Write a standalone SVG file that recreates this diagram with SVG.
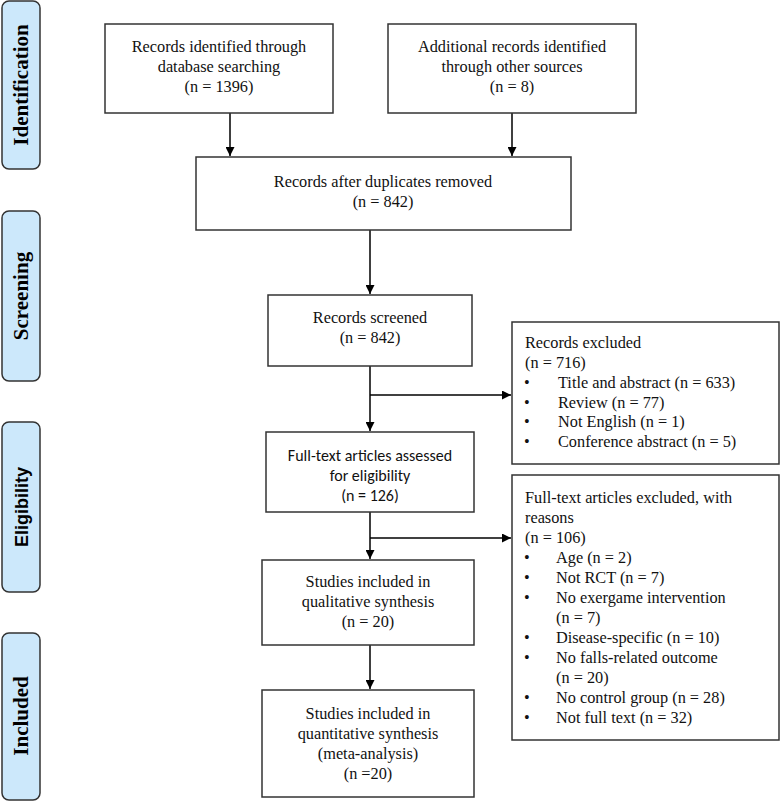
<svg xmlns="http://www.w3.org/2000/svg" width="783" height="803" viewBox="0 0 783 803">
<defs>
<marker id="ah" viewBox="0 0 10 10" refX="10" refY="5" markerWidth="9" markerHeight="9" markerUnits="userSpaceOnUse" orient="auto"><path d="M0,0L10,5L0,10z" fill="#000"/></marker>
<style>
.b{fill:#fff;stroke:#333;stroke-width:1.5}
.s{fill:#cce8fb;stroke:#333;stroke-width:1.5}
.t{font-family:"Liberation Serif",serif;font-size:16.3px;fill:#111}
.sa{font-family:Carlito,"Liberation Sans",sans-serif;font-size:16px;fill:#111}
.m{text-anchor:middle}
.lb{font-family:"Liberation Serif",serif;font-weight:bold;font-size:21px;text-anchor:middle}
.ls{font-family:"Liberation Sans",sans-serif;font-weight:bold;font-size:18px;text-anchor:middle}
.c{stroke:#000;stroke-width:1.5;fill:none}
</style>
</defs>
<rect width="783" height="803" fill="#fff"/>
<g id="phases">
<rect class="s" x="2" y="1" width="38" height="168" rx="7"/>
<text class="lb" transform="translate(28,85) rotate(-90)">Identification</text>
<rect class="s" x="2" y="211" width="38" height="170" rx="7"/>
<text class="lb" transform="translate(28,296) rotate(-90)">Screening</text>
<rect class="s" x="2" y="422" width="38" height="170" rx="7"/>
<text class="ls" transform="translate(28,507) rotate(-90)">Eligibility</text>
<rect class="s" x="2" y="633" width="38" height="167" rx="7"/>
<text class="lb" transform="translate(28,716) rotate(-90)">Included</text>
</g>
<g id="connectors">
<path class="c" d="M230,113V156" marker-end="url(#ah)"/>
<path class="c" d="M512,113V156" marker-end="url(#ah)"/>
<path class="c" d="M370,230V294" marker-end="url(#ah)"/>
<path class="c" d="M370,366V431" marker-end="url(#ah)"/>
<path class="c" d="M370,395H511" marker-end="url(#ah)"/>
<path class="c" d="M370,512V559" marker-end="url(#ah)"/>
<path class="c" d="M370,538H511" marker-end="url(#ah)"/>
<path class="c" d="M370,645V689" marker-end="url(#ah)"/>
</g>
<g id="n1"><rect class="b" x="105" y="24" width="228" height="89"/>
<text class="t m" x="219" y="52">Records identified through</text><text class="t m" x="219" y="72">database searching</text><text class="t m" x="219" y="92">(n = 1396)</text></g>
<g id="n2"><rect class="b" x="388" y="24" width="248" height="89"/>
<text class="t m" x="512" y="52">Additional records identified</text><text class="t m" x="512" y="72">through other sources</text><text class="t m" x="512" y="92">(n = 8)</text></g>
<g id="n3"><rect class="b" x="196" y="157" width="375" height="73"/>
<text class="t m" x="383" y="187">Records after duplicates removed</text><text class="t m" x="383" y="207">(n = 842)</text></g>
<g id="n4"><rect class="b" x="268" y="295" width="204" height="71"/>
<text class="t m" x="370" y="323">Records screened</text><text class="t m" x="370" y="343">(n = 842)</text></g>
<g id="n5"><rect class="b" x="512" y="322" width="267" height="142"/>
<text class="t" x="525" y="348">Records excluded</text><text class="t" x="525" y="368">(n = 716)</text>
<text class="t" x="524" y="388">•</text><text class="t" x="558" y="388">Title and abstract (n = 633)</text>
<text class="t" x="524" y="408">•</text><text class="t" x="558" y="408">Review (n = 77)</text>
<text class="t" x="524" y="427">•</text><text class="t" x="558" y="427">Not English (n = 1)</text>
<text class="t" x="524" y="447">•</text><text class="t" x="558" y="447">Conference abstract (n = 5)</text></g>
<g id="n6"><rect class="b" x="266" y="432" width="208" height="80"/>
<text class="sa m" x="370" y="461">Full-text articles assessed</text><text class="sa m" x="370" y="481">for eligibility</text><text class="sa m" x="370" y="501">(n = 126)</text></g>
<g id="n7"><rect class="b" x="512" y="475" width="267" height="265"/>
<text class="t" x="525" y="503">Full-text articles excluded, with</text><text class="t" x="525" y="523">reasons</text><text class="t" x="525" y="543">(n = 106)</text>
<text class="t" x="524" y="563">•</text><text class="t" x="556" y="563">Age (n = 2)</text>
<text class="t" x="524" y="583">•</text><text class="t" x="556" y="583">Not RCT (n = 7)</text>
<text class="t" x="524" y="603">•</text><text class="t" x="556" y="603">No exergame intervention</text>
<text class="t" x="556" y="623">(n = 7)</text>
<text class="t" x="524" y="643">•</text><text class="t" x="556" y="643">Disease-specific (n = 10)</text>
<text class="t" x="524" y="663">•</text><text class="t" x="556" y="663">No falls-related outcome</text>
<text class="t" x="556" y="683">(n = 20)</text>
<text class="t" x="524" y="703">•</text><text class="t" x="556" y="703">No control group (n = 28)</text>
<text class="t" x="524" y="723">•</text><text class="t" x="556" y="723">Not full text (n = 32)</text></g>
<g id="n8"><rect class="b" x="262" y="560" width="212" height="85"/>
<text class="t m" x="368" y="587">Studies included in</text><text class="t m" x="368" y="607">qualitative synthesis</text><text class="t m" x="368" y="627">(n = 20)</text></g>
<g id="n9"><rect class="b" x="262" y="690" width="212" height="107"/>
<text class="t m" x="368" y="719">Studies included in</text><text class="t m" x="368" y="739">quantitative synthesis</text><text class="t m" x="368" y="759">(meta-analysis)</text><text class="t m" x="368" y="779">(n =20)</text></g>
</svg>
